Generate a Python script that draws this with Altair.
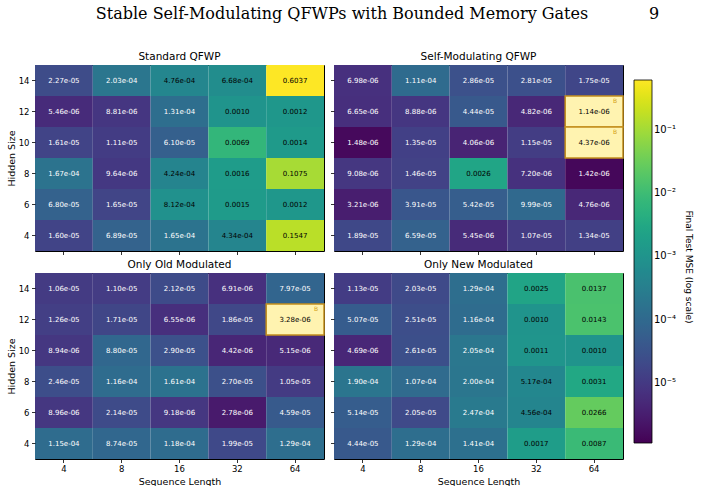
import altair as alt
import pandas as pd

seq_lengths = [4, 8, 16, 32, 64]
hidden_sizes = [14, 12, 10, 8, 6, 4]

# rows: hidden 14 -> 4 ; columns: seq 4 -> 64
standard_qfwp = [
    [2.27e-05, 2.03e-04, 4.76e-04, 6.68e-04, 0.6037],
    [5.46e-06, 8.81e-06, 1.31e-04, 0.0010, 0.0012],
    [1.61e-05, 1.11e-05, 6.10e-05, 0.0069, 0.0014],
    [1.67e-04, 9.64e-06, 4.24e-04, 0.0016, 0.1075],
    [6.80e-05, 1.65e-05, 8.12e-04, 0.0015, 0.0012],
    [1.60e-05, 6.89e-05, 1.65e-04, 4.34e-04, 0.1547],
]
self_modulating = [
    [6.98e-06, 1.11e-04, 2.86e-05, 2.81e-05, 1.75e-05],
    [6.65e-06, 8.88e-06, 4.44e-05, 4.82e-06, 1.14e-06],
    [1.48e-06, 1.35e-05, 4.06e-06, 1.15e-05, 4.37e-06],
    [9.08e-06, 1.46e-05, 0.0026, 7.20e-06, 1.42e-06],
    [3.21e-06, 3.91e-05, 5.42e-05, 9.99e-05, 4.76e-06],
    [1.89e-05, 6.59e-05, 5.45e-06, 1.07e-05, 1.34e-05],
]
only_old = [
    [1.06e-05, 1.10e-05, 2.12e-05, 6.91e-06, 7.97e-05],
    [1.26e-05, 1.71e-05, 6.55e-06, 1.86e-05, 3.28e-06],
    [8.94e-06, 8.80e-05, 2.90e-05, 4.42e-06, 5.15e-06],
    [2.46e-05, 1.16e-04, 1.61e-04, 2.70e-05, 1.05e-05],
    [8.96e-06, 2.14e-05, 9.18e-06, 2.78e-06, 4.59e-05],
    [1.15e-04, 8.74e-05, 1.18e-04, 1.99e-05, 1.29e-04],
]
only_new = [
    [1.13e-05, 2.03e-05, 1.29e-04, 0.0025, 0.0137],
    [5.07e-05, 2.51e-05, 1.16e-04, 0.0010, 0.0143],
    [4.69e-06, 2.61e-05, 2.05e-04, 0.0011, 0.0010],
    [1.90e-04, 1.07e-04, 2.00e-04, 5.17e-04, 0.0031],
    [5.14e-05, 2.05e-05, 2.47e-04, 4.56e-04, 0.0266],
    [4.44e-05, 1.29e-04, 1.41e-04, 0.0017, 0.0087],
]
best_standard = []
best_self = [(12, 64), (10, 64)]
best_old = [(12, 64)]
best_new = []

panel_titles = ["Standard QFWP", "Self-Modulating QFWP", "Only Old Modulated", "Only New Modulated"]
header_text = "Stable Self-Modulating QFWPs with Bounded Memory Gates"
page_number = "9"
colorbar_title = "Final Test MSE (log scale)"

all_vals = [v for m in (standard_qfwp, self_modulating, only_old, only_new) for r in m for v in r]
vmin, vmax = min(all_vals), max(all_vals)

W, H = 289, 186
FONT = "DejaVu Sans"

def fmt(v):
    return f"{v:.4f}" if v >= 1e-3 else f"{v:.2e}"

color_scale = alt.Scale(type="log", scheme="viridis", domain=[vmin, vmax])
legend = alt.Legend(
    title=None, orient="none", legendX=599, legendY=15,
    direction="vertical", gradientLength=363, gradientThickness=18,
    gradientStrokeColor="black", gradientStrokeWidth=0.8,
    values=[1e-5, 1e-4, 1e-3, 1e-2, 1e-1],
    labelExpr="'10⁻' + ['⁰','¹','²','³','⁴','⁵','⁶'][-round(log(datum.value)/LN10)]",
    labelFontSize=10, labelFont=FONT, labelColor="black", padding=0,
)

def text_layer(s, **kw):
    return alt.Chart(pd.DataFrame({"t": [s]})).mark_text(**kw)

def panel(values, best, title, show_x, show_y, extras=()):
    rows = []
    for i, h in enumerate(hidden_sizes):
        for j, s in enumerate(seq_lengths):
            v = values[i][j]
            rows.append(dict(seq=str(s), hidden=str(h), mse=v, label=fmt(v),
                             best=bool((h, s) in best)))
    df = pd.DataFrame(rows)
    if show_x:
        xaxis = alt.Axis(title="Sequence Length", labelAngle=0, tickSize=3.5, domain=False,
                         labelFontSize=8.5, titleFontSize=9.5, labelPadding=2, titlePadding=3)
    else:
        xaxis = alt.Axis(title=None, labels=False, tickSize=3.5, domain=False)
    if show_y:
        yaxis = alt.Axis(title="Hidden Size", labelAngle=0, tickSize=3.5, domain=False,
                         labelFontSize=8.5, titleFontSize=9.5, labelPadding=2.5, titlePadding=2)
    else:
        yaxis = alt.Axis(title=None, labels=False, tickSize=3.5, domain=False)
    base = alt.Chart(df).encode(
        x=alt.X("seq:O", sort=[str(s) for s in seq_lengths], axis=xaxis,
                scale=alt.Scale(paddingInner=0, paddingOuter=0)),
        y=alt.Y("hidden:O", sort=[str(h) for h in hidden_sizes], axis=yaxis,
                scale=alt.Scale(paddingInner=0, paddingOuter=0)),
    )
    heat = base.mark_rect().encode(color=alt.Color("mse:Q", scale=color_scale, legend=legend))
    hi = base.transform_filter("datum.best").mark_rect(
        fill="#fff3b0", stroke="#c38f1c", strokeWidth=1.5)
    txt = base.mark_text(fontSize=7, font=FONT).encode(
        text="label:N",
        color=alt.condition("datum.mse < 3e-4 && !datum.best", alt.value("white"), alt.value("black")),
    )
    bmark = base.transform_filter("datum.best").mark_text(
        text="B", fontSize=6, font=FONT, color="#d4a017", dx=21, dy=-11)
    ttl = text_layer(title, font=FONT, fontSize=10.5, baseline="alphabetic", align="center",
                     color="black").encode(text="t:N", x=alt.value(W / 2), y=alt.value(-5))
    layers = [heat, hi, txt, bmark, ttl, *extras]
    return alt.layer(*layers).properties(width=W, height=H)

cb_title = text_layer(colorbar_title, font=FONT, fontSize=9, angle=90, baseline="middle",
                      align="center", color="black").encode(
    text="t:N", x=alt.value(355), y=alt.value(202))
hdr = text_layer(header_text, font="DejaVu Serif", fontSize=16, baseline="alphabetic",
                 color="black").encode(text="t:N", x=alt.value(307), y=alt.value(-46))
pg = text_layer(page_number, font="DejaVu Serif", fontSize=16, baseline="alphabetic",
                color="black").encode(text="t:N", x=alt.value(619), y=alt.value(-46))

p1 = panel(standard_qfwp, best_standard, panel_titles[0], False, True, extras=(hdr, pg))
p2 = panel(self_modulating, best_self, panel_titles[1], False, False, extras=(cb_title,))
p3 = panel(only_old, best_old, panel_titles[2], True, True)
p4 = panel(only_new, best_new, panel_titles[3], True, False)

chart = alt.concat(
    p1, p2, p3, p4, columns=2, bounds="flush",
    spacing={"row": 22, "column": 10},
).properties(
    padding={"left": 5, "top": 5, "right": 0, "bottom": 0}
).configure_view(stroke="black", strokeWidth=1).configure_axis(
    tickColor="black", labelColor="black", titleColor="black", labelFont=FONT,
    titleFont=FONT, titleFontWeight="normal", tickWidth=0.8,
)

chart.save("out.html", embed_options={"renderer": "svg", "actions": False})
